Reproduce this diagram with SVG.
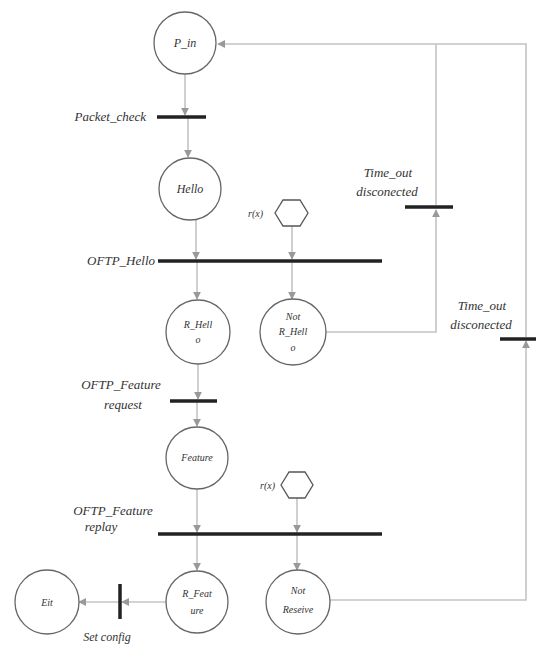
<svg xmlns="http://www.w3.org/2000/svg" width="536" height="646" viewBox="0 0 536 646">
<style>
.place{fill:#fff;stroke:#666;stroke-width:1.3}
.hex{fill:#fff;stroke:#555;stroke-width:1.3}
.bar{stroke:#222;stroke-width:3.5;fill:none}
.arc{stroke:#c4c4c4;stroke-width:1.6;fill:none}
.lbl{font-family:"Liberation Serif",serif;font-style:italic;font-size:13px;fill:#333}
.in{font-family:"Liberation Serif",serif;font-style:italic;font-size:10px;fill:#333;text-anchor:middle}
.sm{font-family:"Liberation Serif",serif;font-style:italic;font-size:10px;fill:#333}
</style>
<defs>
<marker id="ah" viewBox="0 0 10 10" refX="9" refY="5" markerWidth="5" markerHeight="5" orient="auto">
<path d="M0,0 L10,5 L0,10 z" fill="#999"/>
</marker>
</defs>
<rect width="536" height="646" fill="#fff"/>
<g id="connectors">
<line class="arc" x1="185" y1="74" x2="185" y2="115" marker-end="url(#ah)"/>
<line class="arc" x1="188" y1="118" x2="188" y2="157" marker-end="url(#ah)"/>
<line class="arc" x1="196" y1="220" x2="196" y2="259" marker-end="url(#ah)"/>
<line class="arc" x1="197" y1="262" x2="197" y2="299" marker-end="url(#ah)"/>
<line class="arc" x1="198" y1="364" x2="198" y2="399" marker-end="url(#ah)"/>
<line class="arc" x1="197" y1="402" x2="197" y2="426" marker-end="url(#ah)"/>
<line class="arc" x1="197" y1="489" x2="197" y2="532" marker-end="url(#ah)"/>
<line class="arc" x1="197" y1="535" x2="197" y2="570" marker-end="url(#ah)"/>
<line class="arc" x1="292" y1="226" x2="292" y2="259" marker-end="url(#ah)"/>
<line class="arc" x1="292" y1="262" x2="292" y2="299" marker-end="url(#ah)"/>
<line class="arc" x1="297" y1="498" x2="297" y2="532" marker-end="url(#ah)"/>
<line class="arc" x1="297" y1="535" x2="297" y2="570" marker-end="url(#ah)"/>
<polyline class="arc" points="326,332 436,332 436,210" marker-end="url(#ah)"/>
<line class="arc" x1="436" y1="205" x2="436" y2="44"/>
<polyline class="arc" points="330,600 526,600 526,341" marker-end="url(#ah)"/>
<polyline class="arc" points="526,337 526,44 218,44" marker-end="url(#ah)"/>
<line class="arc" x1="166" y1="602" x2="122" y2="602" marker-end="url(#ah)"/>
<line class="arc" x1="119" y1="602" x2="79" y2="602" marker-end="url(#ah)"/>
</g>
<g id="t_packet_check">
<line class="bar" x1="157" y1="117" x2="206" y2="117"/>
<text class="lbl" x="146" y="121" text-anchor="end">Packet_check</text>
</g>
<g id="t_oftp_hello">
<line class="bar" x1="158" y1="261" x2="382" y2="261"/>
<text class="lbl" x="155" y="265" text-anchor="end">OFTP_Hello</text>
</g>
<g id="t_feature_request">
<line class="bar" x1="170" y1="401" x2="217" y2="401"/>
<text class="lbl" x="121" y="389" text-anchor="middle">OFTP_Feature</text>
<text class="lbl" x="123" y="409" text-anchor="middle">request</text>
</g>
<g id="t_feature_replay">
<line class="bar" x1="158" y1="534" x2="382" y2="534"/>
<text class="lbl" x="113" y="515" text-anchor="middle">OFTP_Feature</text>
<text class="lbl" x="101" y="531" text-anchor="middle">replay</text>
</g>
<g id="t_timeout1">
<line class="bar" x1="405" y1="207" x2="453" y2="207"/>
<text class="lbl" x="388" y="177" text-anchor="middle">Time_out</text>
<text class="lbl" x="387" y="196" text-anchor="middle">disconected</text>
</g>
<g id="t_timeout2">
<line class="bar" x1="500" y1="339" x2="536" y2="339"/>
<text class="lbl" x="482" y="310" text-anchor="middle">Time_out</text>
<text class="lbl" x="481" y="329" text-anchor="middle">disconected</text>
</g>
<g id="t_set_config">
<line class="bar" x1="120" y1="584" x2="120" y2="619"/>
<text class="lbl" x="107" y="641" text-anchor="middle" style="font-size:12px">Set  config</text>
</g>
<g id="p_in">
<circle class="place" cx="185" cy="43" r="31"/>
<text class="in" x="185" y="47" style="font-size:12px">P_in</text>
</g>
<g id="hello">
<circle class="place" cx="190" cy="189" r="31"/>
<text class="in" x="190" y="193" style="font-size:12px">Hello</text>
</g>
<g id="r_hello">
<circle class="place" cx="198" cy="332" r="32"/>
<text class="in" x="198" y="328">R_Hell</text>
<text class="in" x="198" y="343">o</text>
</g>
<g id="not_r_hello">
<circle class="place" cx="293" cy="332" r="33"/>
<text class="in" x="293" y="320">Not</text>
<text class="in" x="293" y="335">R_Hell</text>
<text class="in" x="293" y="351">o</text>
</g>
<g id="feature">
<circle class="place" cx="197" cy="458" r="31"/>
<text class="in" x="197" y="461">Feature</text>
</g>
<g id="r_feature">
<circle class="place" cx="197" cy="602" r="31"/>
<text class="in" x="197" y="597">R_Feat</text>
<text class="in" x="197" y="614">ure</text>
</g>
<g id="not_reserve">
<circle class="place" cx="298" cy="602" r="32"/>
<text class="in" x="298" y="594">Not</text>
<text class="in" x="298" y="613">Reseive</text>
</g>
<g id="exit">
<circle class="place" cx="47" cy="602" r="32"/>
<text class="in" x="47" y="606">Eit</text>
</g>
<g id="rx1">
<polygon class="hex" points="275,213 283,200 300,200 308,213 300,226 283,226"/>
<text class="sm" x="263" y="217" text-anchor="end">r(x)</text>
</g>
<g id="rx2">
<polygon class="hex" points="281,485 289,472 305,472 313,485 305,498 289,498"/>
<text class="sm" x="275" y="489" text-anchor="end">r(x)</text>
</g>
</svg>
